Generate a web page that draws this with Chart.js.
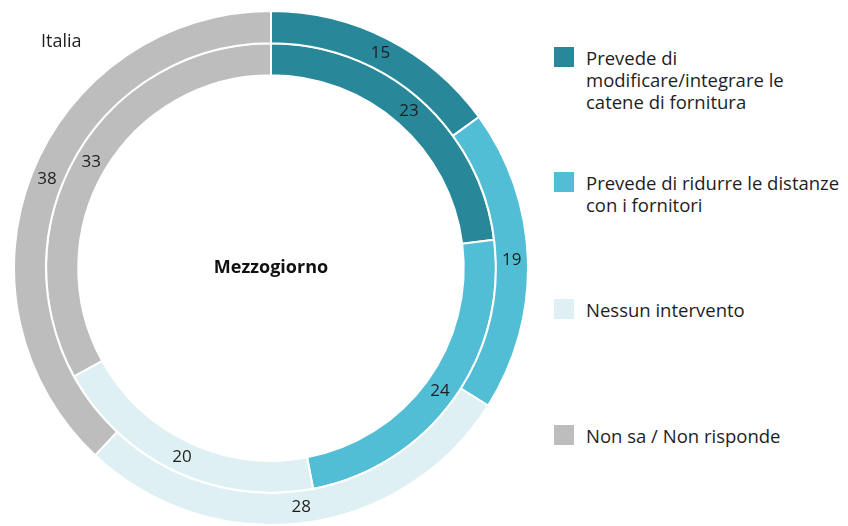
<!DOCTYPE html>
<html>
<head>
<meta charset="utf-8">
<script src="https://cdn.jsdelivr.net/npm/chart.js@4"></script>
<style>
  html, body { margin: 0; padding: 0; background: #fff; }
  body { width: 848px; height: 526px; position: relative; overflow: hidden; font-family: "Open Sans", sans-serif; color: #1e1e1e; }
  #wrap { position: absolute; left: 13px; top: 10px; width: 516px; height: 516px; }
  #italia { position: absolute; left: 41px; top: 28px; font-size: 18px; }
  .leg { position: absolute; left: 554px; font-size: 18.5px; line-height: 22px; white-space: nowrap; }
  .leg span.box { position: absolute; left: 0; top: 0; width: 20px; height: 20px; }
  .leg div.txt { margin-left: 32px; }
</style>
</head>
<body>
<div id="wrap"><canvas id="ring" width="516" height="516"></canvas></div>
<div id="italia">Italia</div>
<div id="legend"></div>
<script>
// categorie e valori (%)
const categorie = [
    'Prevede di modificare/integrare le catene di fornitura',
    'Prevede di ridurre le distanze con i fornitori',
    'Nessun intervento',
    'Non sa / Non risponde'
];
const righeLegenda = [
    ['Prevede di', 'modificare/integrare le', 'catene di fornitura'],
    ['Prevede di ridurre le distanze', 'con i fornitori'],
    ['Nessun intervento'],
    ['Non sa / Non risponde']
];
const italia = [15, 19, 28, 38];
const mezzogiorno = [23, 24, 20, 33];
const colori = ['#28889a', '#52bed5', '#dff0f4', '#bdbdbd'];
const legendaTop = [47, 172, 299, 425];

// legenda HTML
const leg = document.getElementById('legend');
righeLegenda.forEach((righe, i) => {
    const d = document.createElement('div');
    d.className = 'leg';
    d.style.top = legendaTop[i] + 'px';
    d.innerHTML = '<span class="box" style="background:' + colori[i] + '"></span><div class="txt">' + righe.join('<br>') + '</div>';
    leg.appendChild(d);
});

// etichette sui settori + testo centrale
const etichette = {
    id: 'etichette',
    afterDatasetsDraw(chart) {
        const ctx = chart.ctx;
        ctx.save();
        ctx.textAlign = 'center';
        ctx.textBaseline = 'middle';
        ctx.fillStyle = '#1e1e1e';
        ctx.font = '17px "Open Sans", sans-serif';
        chart.data.datasets.forEach((ds, i) => {
            const meta = chart.getDatasetMeta(i);
            meta.data.forEach((arc, j) => {
                const p = arc.tooltipPosition();
                ctx.fillText(ds.data[j], p.x, p.y);
            });
        });
        const a = chart.chartArea;
        ctx.font = 'bold 18px "Open Sans", sans-serif';
        ctx.fillStyle = '#111';
        ctx.fillText('Mezzogiorno', (a.left + a.right) / 2, (a.top + a.bottom) / 2);
        ctx.restore();
    }
};

new Chart(document.getElementById('ring'), {
    type: 'doughnut',
    data: {
        labels: categorie,
        datasets: [
            { label: 'Italia', data: italia, backgroundColor: colori, borderColor: '#fff', borderWidth: 2 },
            { label: 'Mezzogiorno', data: mezzogiorno, backgroundColor: colori, borderColor: '#fff', borderWidth: 2 }
        ]
    },
    options: {
        responsive: false,
        animation: false,
        cutout: '75%',
        layout: { padding: 0 },
        plugins: { legend: { display: false }, tooltip: { enabled: false } }
    },
    plugins: [etichette]
});
</script>
</body>
</html>
